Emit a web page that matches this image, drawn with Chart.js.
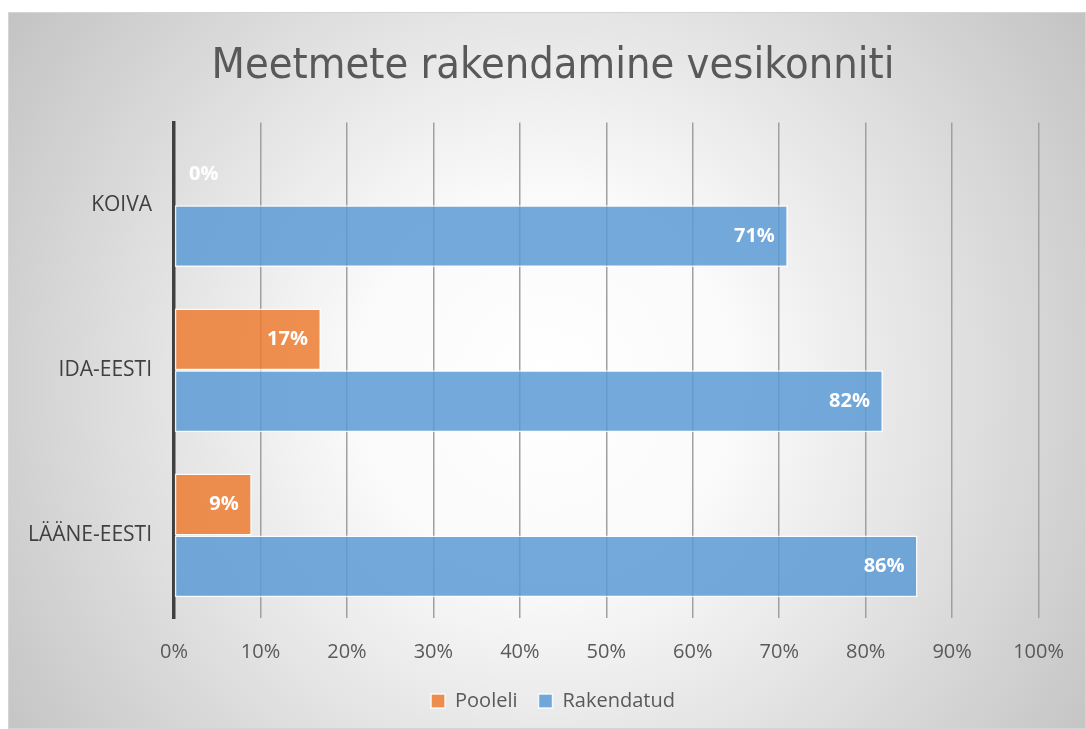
<!DOCTYPE html>
<html>
<head>
<meta charset="utf-8">
<script src="https://cdn.jsdelivr.net/npm/chart.js@4"></script>
<style>
html,body{margin:0;padding:0;background:#fff;}
#wrap{position:absolute;left:8px;top:12px;width:1078px;height:717px;}
canvas{display:block;}
</style>
</head>
<body>
<div id="wrap"><canvas id="c" width="1078" height="717"></canvas></div>
<script>
const categories = ['KOIVA', 'IDA-EESTI', 'LÄÄNE-EESTI'];
const pooleli = [0, 17, 9];
const rakendatud = [71, 82, 86];
const xTicks = [0, 10, 20, 30, 40, 50, 60, 70, 80, 90, 100];
const titleText = 'Meetmete rakendamine vesikonniti';
const seriesNames = ['Pooleli', 'Rakendatud'];

const bgPlugin = {
  id: 'bg',
  beforeDraw(chart) {
    const ctx = chart.ctx, w = chart.width, h = chart.height;
    ctx.save();
    const g = ctx.createRadialGradient(w * 0.5, h * 0.52, 0, w * 0.5, h * 0.52, Math.sqrt(w * w + h * h) / 2);
    g.addColorStop(0, '#ffffff');
    g.addColorStop(0.3, '#fafafa');
    g.addColorStop(1, '#c4c4c4');
    ctx.fillStyle = g;
    ctx.fillRect(0, 0, w, h);
    ctx.strokeStyle = '#d4d4d4';
    ctx.lineWidth = 1;
    ctx.strokeRect(0.5, 0.5, w - 1, h - 1);
    ctx.restore();
  }
};

const labelPlugin = {
  id: 'vals',
  afterDatasetsDraw(chart) {
    const ctx = chart.ctx;
    ctx.save();
    ctx.font = 'bold 20px "Open Sans", sans-serif';
    ctx.fillStyle = '#ffffff';
    ctx.textBaseline = 'middle';
    chart.data.datasets.forEach((ds, di) => {
      const meta = chart.getDatasetMeta(di);
      meta.data.forEach((el, i) => {
        const v = ds.data[i];
        const txt = v + '%';
        if (v === 0) {
          ctx.textAlign = 'left';
          ctx.fillText(txt, el.base + 15, el.y);
        } else {
          ctx.textAlign = 'right';
          ctx.fillText(txt, el.x - 13, el.y);
        }
      });
    });
    ctx.restore();
  }
};

new Chart(document.getElementById('c'), {
  type: 'bar',
  data: {
    labels: categories,
    datasets: [
      { label: seriesNames[0], data: pooleli, backgroundColor: 'rgba(237,125,49,0.85)', borderColor: 'rgba(255,255,255,0.85)', borderWidth: 1.5, borderSkipped: false },
      { label: seriesNames[1], data: rakendatud, backgroundColor: 'rgba(91,155,213,0.85)', borderColor: 'rgba(255,255,255,0.85)', borderWidth: 1.5, borderSkipped: false }
    ]
  },
  options: {
    indexAxis: 'y',
    responsive: false,
    animation: false,
    devicePixelRatio: 1,
    categoryPercentage: 0.75,
    barPercentage: 1.0,
    layout: { padding: { left: 12, right: 0, top: 0, bottom: 8 } },
    plugins: {
      title: {
        display: true,
        text: titleText,
        color: '#595959',
        font: { family: '"DejaVu Sans Condensed", "DejaVu Sans", sans-serif', size: 43, weight: 'normal' },
        padding: { top: 29, bottom: 30 }
      },
      legend: {
        position: 'bottom',
        labels: {
          color: '#595959',
          font: { family: '"Open Sans", sans-serif', size: 20 },
          boxWidth: 14, boxHeight: 14, padding: 21
        }
      },
      tooltip: { enabled: false }
    },
    scales: {
      x: {
        min: 0, max: 100,
        afterBuildTicks(scale) { scale.ticks = xTicks.map(v => ({ value: v })); },
        ticks: { callback: v => v + '%', color: '#595959', font: { family: '"Open Sans", sans-serif', size: 20 }, padding: 22, maxRotation: 0 },
        grid: { color: '#a0a0a0', lineWidth: 1.5, drawTicks: false },
        border: { display: false },
        afterFit(scale) { scale.height = 52; }
      },
      y: {
        ticks: { color: '#404040', font: { family: '"Open Sans", sans-serif', size: 21 }, padding: 22 },
        grid: { display: false, drawTicks: false },
        border: { display: true, color: '#404040', width: 3.5 },
        afterFit(scale) { scale.width = 154; }
      },
      yRight: {
        type: 'category',
        position: 'right',
        display: true,
        ticks: { display: false },
        grid: { display: false, drawTicks: false },
        border: { display: false },
        afterFit(scale) { scale.width = 41; }
      }
    }
  },
  plugins: [bgPlugin, labelPlugin]
});
</script>
</body>
</html>
